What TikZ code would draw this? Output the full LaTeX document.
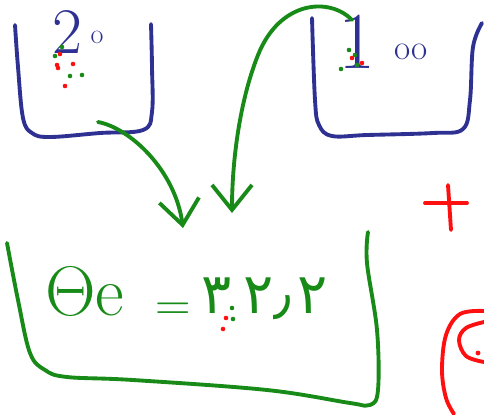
\RequirePackage{fix-cm}
\documentclass[tikz,border=0pt]{standalone}
\usepackage{fontspec}
\usepackage{tikz}
\usetikzlibrary{arrows.meta, positioning}
\newfontfamily\arabicfont[Script=Arabic]{DejaVu Sans}
\definecolor{inkblue}{HTML}{2E3192}
\definecolor{inkgreen}{HTML}{178A17}
\definecolor{inkred}{HTML}{FF1010}

\begin{document}
\begin{tikzpicture}[x=0.02cm, y=-0.02cm,
    cup/.style={draw=inkblue, line width=2.2pt, line cap=round, line join=round},
    bowl/.style={draw=inkgreen, line width=2.2pt, line cap=round, line join=round},
    flow/.style={draw=inkgreen, line width=2.2pt, line cap=round,
                 -{Straight Barb[length=5mm, width=8mm]}},
    redpen/.style={draw=inkred, line width=2.2pt, line cap=round},
    bluetext/.style={inner sep=0pt, text=inkblue},
    greentext/.style={inner sep=0pt, text=inkgreen},
]
\useasboundingbox (0,0) rectangle (484,414);
\clip (0,0) rectangle (484,414);

% Two cups with their readings
\draw[cup] plot[smooth, tension=0.6] coordinates {(15,25) (18,67) (23,118) (32,133) (50,137) (100,133) (143,130) (152,112) (152,67) (151,24)};
\draw[cup] plot[smooth, tension=0.6] coordinates {(312,18) (315,100) (319,125) (332,136) (367,135) (433,133) (463,129) (470,100) (473,47) (482,23)};

\node[bluetext, font=\fontsize{37}{40}\selectfont] (hottwo) at (67,32) {2};
\node[bluetext, font=\fontsize{16}{18}\selectfont] (hotzero) at (97,37) {o};
\node[bluetext, font=\fontsize{46}{48}\selectfont] (coldone) at (357,42) {1};
\node[bluetext, font=\fontsize{20}{22}\selectfont] (coldzeros) at (411,52) {oo};

% The mixing bowl and the result
\draw[bowl] plot[smooth, tension=0.6] coordinates {(7,243) (18,300) (30,353) (45,370) (67,377) (133,380) (267,390) (350,403) (370,405) (378,390) (377,330) (367,263) (368,232)};

\node[greentext, font=\fontsize{40}{42}\selectfont, anchor=base west] (thetae) at (45,315) {$\Theta$e};
\node[greentext, font=\fontsize{28}{30}\selectfont] (equals) at (173,312) {=};
\node[greentext, font=\fontsize{32}{34}\selectfont, anchor=base west] (result) at (201,313) {\arabicfont ۳\hspace{7pt}۲٫\hspace{3pt}۲};

% Pouring arrows
\coordinate (hotout) at (98,122);
\coordinate (hotin) at (183,228);
\coordinate (coldout) at (352,20);
\coordinate (coldin) at (232,213);
\draw[flow] (hotout) .. controls (130,128) and (175,170) .. (hotin);
\draw[flow] (coldout) .. controls (330,-3) and (280,0) .. (258,55)
    .. controls (240,100) and (232,160) .. (coldin);

% Red marks at the right edge
\draw[redpen] (425,203) -- (467,203);
\draw[redpen] (448,185) -- (451,230);
\draw[redpen] plot[smooth, tension=0.6] coordinates {(484,311) (460,314) (446,335) (442,370) (446,398) (454,414)};
\draw[redpen] plot[smooth, tension=0.6] coordinates {(484,322) (466,328) (459,340) (466,356) (484,362)};
\fill[inkred] (478,353) circle (1.4pt);

% Stray pen dots
\foreach \px/\py/\ink in {62/47/inkgreen, 55/56/inkgreen, 60/54/inkred, 57/65/inkred,
    58/68/inkred, 73/64/inkred, 65/86/inkred, 70/76/inkgreen, 82/75/inkgreen,
    349/50/inkgreen, 355/55/inkgreen, 357/65/inkgreen, 352/58/inkred, 362/63/inkred,
    341/69/inkgreen, 232/308/inkgreen, 233/319/inkgreen, 226/318/inkred, 223/329/inkred}
  \fill[\ink] (\px,\py) circle (1.3pt);

\end{tikzpicture}
\end{document}
